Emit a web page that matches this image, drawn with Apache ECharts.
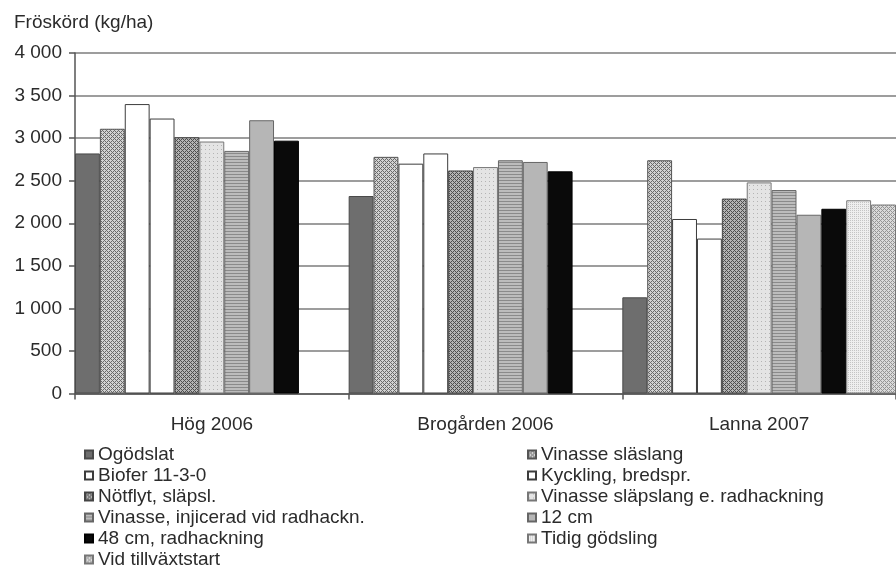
<!DOCTYPE html>
<html>
<head>
<meta charset="utf-8">
<script src="https://cdn.jsdelivr.net/npm/echarts@6/dist/echarts.min.js"></script>
<style>
  html, body { margin: 0; padding: 0; background: #fff; }
  #chart { width: 896px; height: 565px; }
</style>
</head>
<body>
<div id="chart"></div>
<script>
// Seed yield per site and treatment (kg/ha)
const categories = ['Hög 2006', 'Brogården 2006', 'Lanna 2007'];

const ogodslat        = [2820, 2320, 1130];
const vinasseSlaslang = [3110, 2780, 2740];
const biofer          = [3400, 2700, 2050];
const kyckling        = [3230, 2820, 1820];
const notflyt         = [3010, 2620, 2290];
const vinasseRadh     = [2960, 2660, 2480];
const vinasseInj      = [2850, 2740, 2390];
const cm12            = [3210, 2720, 2100];
const cm48            = [2970, 2610, 2170];
const tidig           = [null, null, 2270];
const vidTillvaxt     = [null, null, 2220];

const seriesNames = [
  'Ogödslat', 'Vinasse släslang', 'Biofer 11-3-0', 'Kyckling, bredspr.',
  'Nötflyt, släpsl.', 'Vinasse släpslang e. radhackning',
  'Vinasse, injicerad vid radhackn.', '12 cm', '48 cm, radhackning',
  'Tidig gödsling', 'Vid tillväxtstart'
];
const seriesValues = [
  ogodslat, vinasseSlaslang, biofer, kyckling, notflyt, vinasseRadh,
  vinasseInj, cm12, cm48, tidig, vidTillvaxt
];

const yTickLabels = ['0', '500', '1 000', '1 500', '2 000', '2 500', '3 000', '3 500', '4 000'];

const leftLegend  = [seriesNames[0], seriesNames[2], seriesNames[4], seriesNames[6], seriesNames[8], seriesNames[10]];
const rightLegend = [seriesNames[1], seriesNames[3], seriesNames[5], seriesNames[7], seriesNames[9]];

// --- fill patterns -------------------------------------------------------
function pattern(size, bg, fg, test) {
  const c = document.createElement('canvas');
  c.width = c.height = size;
  const g = c.getContext('2d');
  g.fillStyle = bg;
  g.fillRect(0, 0, size, size);
  g.fillStyle = fg;
  for (let y = 0; y < size; y++)
    for (let x = 0; x < size; x++)
      if (test(x, y)) g.fillRect(x, y, 1, 1);
  return { image: c, repeat: 'repeat' };
}
const crossHatch = (x, y) => (x + y) % 4 === 0 || ((x - y) % 4 + 4) % 4 === 0;

const fills = [
  '#6e6e6e',
  pattern(4, '#d2d2d2', '#6a6a6a', crossHatch),
  '#ffffff',
  '#ffffff',
  pattern(4, '#b4b4b4', '#4e4e4e', crossHatch),
  pattern(4, '#e4e4e4', '#b4b4b4', (x, y) => x === 1 && y === 1),
  pattern(3, '#bcbcbc', '#8a8a8a', (x, y) => y === 0),
  '#b6b6b6',
  '#0a0a0a',
  pattern(2, '#eeeeee', '#c4c4c4', (x, y) => x === 0 && y === 0),
  pattern(4, '#dadada', '#959595', crossHatch)
];
const borders = ['#4a4a4a', '#555', '#3c3c3c', '#3c3c3c', '#444', '#777', '#666', '#666', '#000', '#777', '#777'];

const FONT = 'Liberation Sans';
const TXT = '#2b2b2b';

const chart = echarts.init(document.getElementById('chart'), null, { renderer: 'canvas' });

const series = seriesNames.map((name, i) => ({
  name,
  type: 'bar',
  data: seriesValues[i],
  barGap: '0%',
  barCategoryGap: '0%',
  itemStyle: { color: fills[i], borderColor: borders[i], borderWidth: 1 }
}));

const legendCommon = {
  orient: 'vertical',
  icon: 'rect',
  itemWidth: 8,
  itemHeight: 8,
  itemGap: 2,
  padding: 0,
  height: 140,
  selectedMode: false,
  textStyle: { fontFamily: FONT, fontSize: 19, color: TXT, lineHeight: 19 }
};

chart.setOption({
  animation: false,
  backgroundColor: '#ffffff',
  title: {
    text: 'Fröskörd (kg/ha)',
    left: 14,
    top: 13,
    padding: 0,
    textStyle: { fontFamily: FONT, fontSize: 19, fontWeight: 'normal', color: TXT }
  },
  legend: [
    Object.assign({ data: leftLegend, left: 84, top: 445 }, legendCommon),
    Object.assign({ data: rightLegend, left: 527, top: 445 }, legendCommon)
  ],
  grid: { left: 75, top: 53, bottom: 171.5, right: -8, containLabel: false },
  xAxis: {
    type: 'category',
    data: categories,
    boundaryGap: true,
    axisLine: { lineStyle: { color: '#555', width: 1.5 } },
    axisTick: { show: true, length: 6, lineStyle: { color: '#555', width: 1.5 } },
    axisLabel: { fontFamily: FONT, fontSize: 19, color: TXT, margin: 22 }
  },
  yAxis: {
    type: 'value',
    min: 0,
    max: 4000,
    interval: 500,
    axisLine: { show: true, lineStyle: { color: '#555', width: 1.5 } },
    axisTick: { show: true, length: 6, lineStyle: { color: '#555', width: 1.5 } },
    axisLabel: {
      fontFamily: FONT, fontSize: 19, color: TXT, margin: 13,
      formatter: v => yTickLabels[Math.round(v / 500)]
    },
    splitLine: { show: true, lineStyle: { color: '#7c7c7c', width: 1.5 } }
  },
  series
});
</script>
</body>
</html>
